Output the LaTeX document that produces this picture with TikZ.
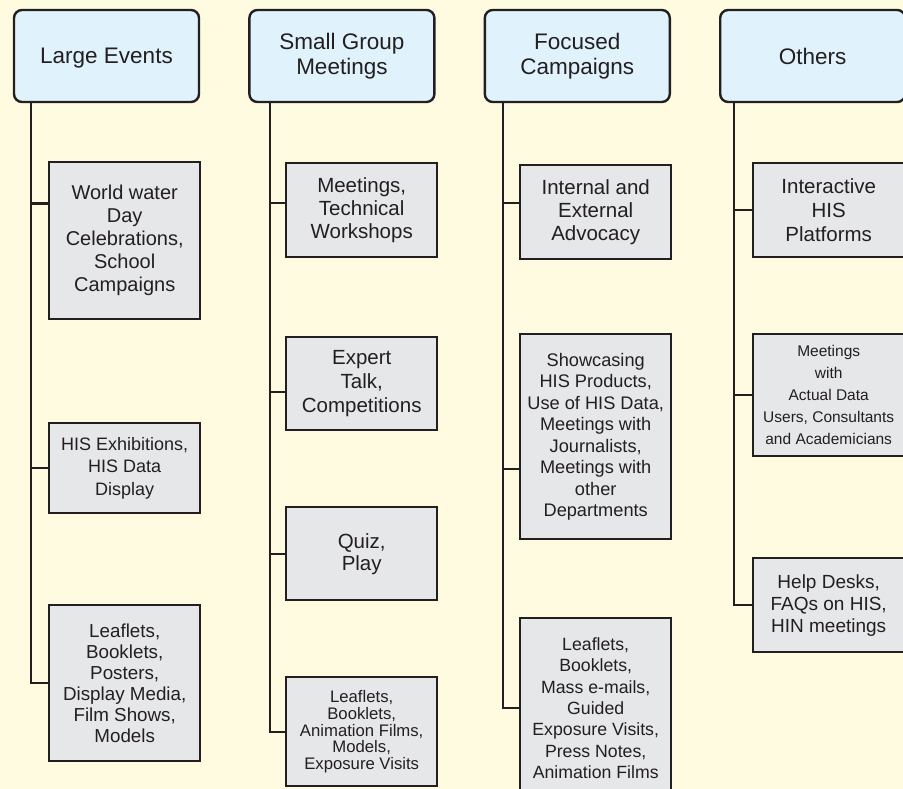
\documentclass[tikz,border=0pt]{standalone}
\usepackage{fontspec}
\setmainfont{Liberation Sans}
\usetikzlibrary{positioning}

\definecolor{bgyellow}{HTML}{FFFBE1}
\definecolor{headblue}{HTML}{E0F3FC}
\definecolor{boxgray}{HTML}{E6E7E9}
\definecolor{inkdark}{HTML}{231F20}

\newcommand{\fsz}[2]{\fontsize{#1}{#2}\selectfont}

\begin{document}
\begin{tikzpicture}[x=1pt,y=-1pt,node distance=48pt,
  head/.style={draw=inkdark,fill=headblue,rounded corners=8pt,line width=2.4pt,
    minimum width=185pt,minimum height=92pt,align=center,inner sep=0pt,
    text=inkdark,font=\fsz{22.5}{25}},
  item/.style={draw=inkdark,fill=boxgray,line width=2.4pt,anchor=north west,
    minimum width=151pt,align=center,inner sep=0pt,text=inkdark},
  link/.style={draw=inkdark,line width=2.4pt}]

\fill[bgyellow] (0,0) rectangle (903,789);
\useasboundingbox (0,0) rectangle (903,789);

% headers
\node[head,text depth=0pt] (h1) at (106.5,56) {Large Events};
\node[head] (h2) [right=of h1] {Small Group\\Meetings};
\node[head] (h3) [right=of h2] {Focused\\Campaigns};
\node[head] (h4) [right=of h3] {Others};

% large events
\node[item,minimum height=157pt,font=\fsz{20}{23}] (a1) at (48,161)
  {World water\\Day\\Celebrations,\\School\\Campaigns};
\node[item,minimum height=90pt,font=\fsz{18}{22.5}] (a2) at (48,422)
  {HIS Exhibitions,\\HIS Data\\Display};
\node[item,minimum height=156pt,font=\fsz{18.8}{21}] (a3) at (48,604)
  {Leaflets,\\Booklets,\\Posters,\\Display Media,\\Film Shows,\\Models};

% small group meetings
\node[item,minimum height=94pt,font=\fsz{20.5}{23.5}] (b1) at (285,162)
  {Meetings,\\Technical\\Workshops};
\node[item,minimum height=93pt,font=\fsz{20.5}{24}] (b2) at (285,336)
  {Expert\\Talk,\\Competitions};
\node[item,minimum height=93pt,font=\fsz{20.5}{22}] (b3) at (285,506)
  {Quiz,\\Play};
\node[item,minimum height=109pt,font=\fsz{16.7}{16.9}] (b4) at (285,676)
  {Leaflets,\\Booklets,\\Animation Films,\\Models,\\Exposure Visits};

% focused campaigns
\node[item,minimum height=94pt,font=\fsz{20.5}{23}] (c1) at (519,164)
  {Internal and\\External\\Advocacy};
\node[item,minimum height=205pt,font=\fsz{18.2}{21.5}] (c2) at (519,333)
  {Showcasing\\HIS Products,\\Use of HIS Data,\\Meetings with\\Journalists,\\Meetings with\\other\\Departments};
\node[item,minimum height=180pt,font=\fsz{17.7}{21.4}] (c3) at (519,617)
  {Leaflets,\\Booklets,\\Mass e-mails,\\Guided\\Exposure Visits,\\Press Notes,\\Animation Films};

% others
\node[item,minimum height=94pt,font=\fsz{20.5}{24}] (d1) at (752,162)
  {Interactive\\HIS\\Platforms};
\node[item,minimum height=122pt,font=\fsz{15.5}{22}] (d2) at (752,333)
  {Meetings\\with\\Actual Data\\Users, Consultants\\and Academicians};
\node[item,minimum height=94pt,font=\fsz{19}{22}] (d3) at (752,557)
  {Help Desks,\\FAQs on HIS,\\HIN meetings};

% stems
\coordinate (s1) at ([xshift=-17pt]a1.west |- h1.south);
\coordinate (s2) at ([xshift=-15pt]b1.west |- h2.south);
\coordinate (s3) at ([xshift=-16pt]c1.west |- h3.south);
\coordinate (s4) at ([xshift=-18pt]d1.west |- h4.south);

\draw[link] (s1) |- (a3.west);
\draw[link] ([yshift=37pt]a1.west) -| (s1);
\draw[link] (a2.west) -| (s1);

\draw[link] (s2) |- (b4.west);
\draw[link] ([yshift=7pt]b1.west) -| (s2);
\draw[link] ([yshift=-8pt]b2.west) -| (s2);
\draw[link] (b3.west) -| (s2);

\draw[link] (s3) |- (c3.west);
\draw[link] ([yshift=9pt]c1.west) -| (s3);
\draw[link] ([yshift=-32pt]c2.west) -| (s3);

\draw[link] (s4) |- (d3.west);
\draw[link] (d1.west) -| (s4);
\draw[link] (d2.west) -| (s4);
\end{tikzpicture}
\end{document}
